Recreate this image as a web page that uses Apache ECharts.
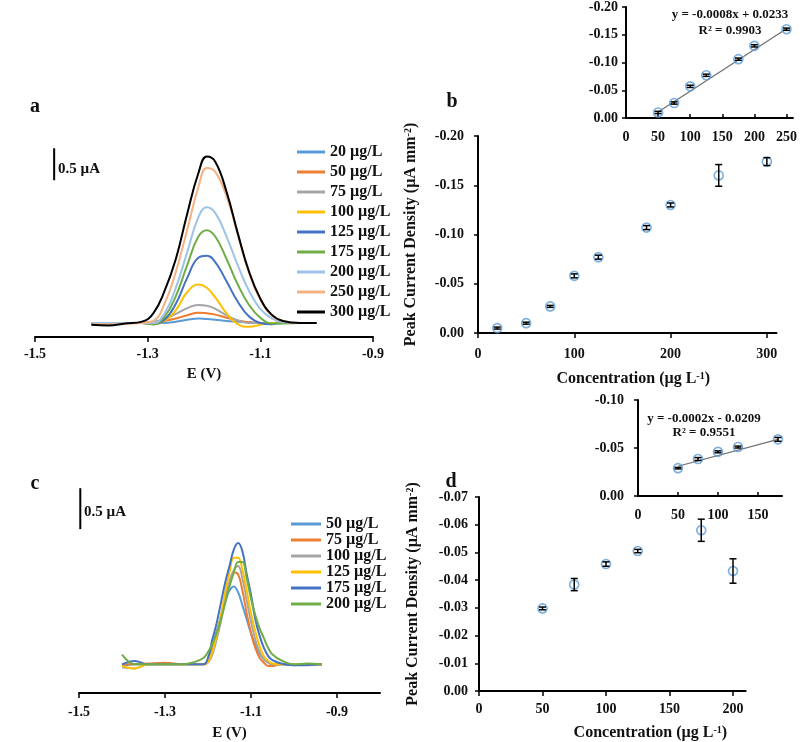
<!DOCTYPE html>
<html>
<head>
<meta charset="utf-8">
<script src="https://cdn.jsdelivr.net/npm/echarts@6/dist/echarts.min.js"></script>
<style>html,body{margin:0;padding:0;background:#fff}#c{width:800px;height:742px}</style>
</head>
<body>
<div id="c"></div>
<script>
// ---------- Panel a: DPV curves ----------
const E_A = [-1.40, -1.37, -1.34, -1.31, -1.29, -1.27, -1.25, -1.23, -1.21, -1.195, -1.18, -1.16, -1.14, -1.12, -1.10, -1.08, -1.06, -1.03, -1.00];
const A_NAMES = ['20 µg/L', '50 µg/L', '75 µg/L', '100 µg/L', '125 µg/L', '175 µg/L', '200 µg/L', '250 µg/L', '300 µg/L'];
const a20  = [0, 0, 0, 0, 0, 0.0, 0.02, 0.05, 0.07, 0.06, 0.05, 0.03, 0.02, 0.01, 0, 0, 0, 0, 0];
const a50  = [-0.02, -0.01, 0, 0, 0.0, 0.03, 0.07, 0.12, 0.16, 0.15, 0.13, 0.08, 0.04, 0.01, 0, 0, 0, 0, 0];
const a75  = [0, 0, 0, 0, 0.02, 0.06, 0.14, 0.23, 0.28, 0.27, 0.22, 0.12, 0.04, 0.0, 0, 0, 0, 0, 0];
const a100 = [0, 0, 0, 0, -0.02, 0.03, 0.2, 0.48, 0.6, 0.55, 0.4, 0.15, -0.02, -0.06, -0.03, 0, 0, 0, 0];
const a125 = [0, 0, 0, 0, -0.02, 0.05, 0.3, 0.7, 1.02, 1.05, 0.95, 0.65, 0.33, 0.1, 0.0, -0.02, 0, 0, 0];
const a175 = [0, 0, 0, 0, -0.02, 0.1, 0.42, 0.9, 1.35, 1.45, 1.35, 1.0, 0.6, 0.28, 0.08, -0.01, -0.01, 0, 0];
const a200 = [0, 0, 0, 0, 0, 0.15, 0.55, 1.1, 1.65, 1.81, 1.72, 1.35, 0.9, 0.5, 0.22, 0.07, 0.01, 0, 0];
const a250 = [-0.02, -0.02, -0.01, 0, 0.03, 0.3, 0.8, 1.45, 2.12, 2.42, 2.36, 1.98, 1.38, 0.78, 0.36, 0.12, 0.03, 0, 0];
const a300 = [-0.03, -0.04, -0.01, 0.02, 0.15, 0.5, 1.0, 1.7, 2.34, 2.6, 2.52, 2.05, 1.4, 0.8, 0.38, 0.13, 0.03, 0, 0];
const A_CURVES = [a20, a50, a75, a100, a125, a175, a200, a250, a300];
const A_TICKS = [-1.5, -1.3, -1.1, -0.9];
const A_SCALEBAR = [[-1.466, 2.23], [-1.466, 2.73]]; // 0.5 µA

// ---------- Panel c: DPV curves ----------
const E_C = [-1.40, -1.37, -1.34, -1.30, -1.26, -1.23, -1.21, -1.20, -1.19, -1.18, -1.17, -1.16, -1.15, -1.14, -1.13, -1.12, -1.11, -1.10, -1.09, -1.08, -1.07, -1.06, -1.05, -1.03, -1.00, -0.97, -0.935];
const C_NAMES = ['50 µg/L', '75 µg/L', '100 µg/L', '125 µg/L', '175 µg/L', '200 µg/L'];
const c50  = [-0.02, 0.0, 0.0, 0.0, 0.0, 0.0, 0.0, 0.05, 0.22, 0.4, 0.58, 0.76, 0.9, 0.95, 0.88, 0.72, 0.55, 0.38, 0.24, 0.13, 0.06, 0.02, 0.0, 0.0, -0.01, 0.0, 0.0];
const c75  = [0.0, 0.0, 0.01, 0.02, 0.0, 0.0, 0.0, 0.03, 0.15, 0.35, 0.58, 0.82, 1.0, 1.12, 1.1, 0.9, 0.62, 0.38, 0.2, 0.08, 0.02, -0.02, -0.02, 0.0, 0.0, 0.0, 0.0];
const c100 = [-0.04, -0.05, 0.0, 0.0, 0.0, 0.0, 0.0, 0.02, 0.12, 0.3, 0.52, 0.78, 1.0, 1.15, 1.2, 1.05, 0.78, 0.52, 0.3, 0.15, 0.06, 0.02, 0.0, 0.0, 0.0, 0.0, 0.0];
const c125 = [-0.02, -0.05, 0.0, 0.0, 0.0, 0.0, 0.0, 0.03, 0.15, 0.35, 0.6, 0.88, 1.12, 1.3, 1.3, 1.15, 0.9, 0.62, 0.4, 0.22, 0.1, 0.04, 0.01, 0.0, 0.0, 0.0, 0.0];
const c175 = [0.0, 0.04, 0.0, 0.0, 0.0, 0.0, 0.0, 0.08, 0.3, 0.5, 0.75, 1.0, 1.2, 1.4, 1.48, 1.38, 1.1, 0.85, 0.55, 0.35, 0.2, 0.1, 0.05, 0.01, -0.01, -0.01, 0.0];
const c200 = [0.12, 0.0, 0.0, 0.0, 0.0, 0.03, 0.08, 0.15, 0.25, 0.38, 0.55, 0.75, 0.95, 1.12, 1.25, 1.25, 1.05, 0.8, 0.6, 0.44, 0.32, 0.2, 0.12, 0.05, 0.0, 0.01, 0.0];
const C_CURVES = [c50, c75, c100, c125, c175, c200];
const C_TICKS = [-1.5, -1.3, -1.1, -0.9];
const C_SCALEBAR = [[-1.497, 1.65], [-1.497, 2.15]]; // 0.5 µA

// ---------- Panel b ----------
const B_CONC = [20, 50, 75, 100, 125, 175, 200, 250, 300];
const B_VAL  = [-0.005, -0.010, -0.027, -0.058, -0.077, -0.107, -0.130, -0.160, -0.174];
const B_ERR  = [0.001, 0.001, 0.001, 0.002, 0.002, 0.002, 0.002, 0.011, 0.004];
const B_XTICKS = [0, 100, 200, 300];
const BI_CONC = [50, 75, 100, 125, 175, 200, 250];
const BI_VAL  = [-0.010, -0.027, -0.057, -0.077, -0.106, -0.130, -0.160];
const BI_ERR  = [0.002, 0.002, 0.002, 0.002, 0.002, 0.002, 0.002];
const BI_FIT  = [[50, -0.011], [250, -0.161]];
const BI_XTICKS = [0, 50, 100, 150, 200, 250];
const B_EQ = 'y = -0.0008x + 0.0233';
const B_R2 = 'R² = 0.9903';

// ---------- Panel d ----------
const D_CONC = [50, 75, 100, 125, 175, 200];
const D_VAL  = [-0.0298, -0.0384, -0.0458, -0.0505, -0.058, -0.0433];
const D_ERR  = [0.0005, 0.0022, 0.0008, 0.0006, 0.004, 0.0044];
const D_XTICKS = [0, 50, 100, 150, 200];
const DI_CONC = [50, 75, 100, 125, 175];
const DI_VAL  = [-0.029, -0.0385, -0.046, -0.051, -0.059];
const DI_ERR  = [0.0008, 0.0015, 0.001, 0.001, 0.002];
const DI_FIT  = [[50, -0.031], [175, -0.059]];
const DI_XTICKS = [0, 50, 100, 150];
const D_EQ = 'y = -0.0002x - 0.0209';
const D_R2 = 'R² = 0.9551';

// ---------- styling ----------
const FONT = '"Liberation Serif", "Times New Roman", serif';
const INK = '#111';
const A_COLORS = ['#5B9BD5', '#ED7D31', '#A5A5A5', '#FFC000', '#4472C4', '#70AD47', '#9DC3E6', '#F4B183', '#000000'];
const C_COLORS = ['#5B9BD5', '#ED7D31', '#A5A5A5', '#FFC000', '#4472C4', '#70AD47'];
const MARK = '#5B9BD5';

const txt = (size) => ({ fontFamily: FONT, fontWeight: 'bold', fontSize: size, color: INK });
const supRich = { sup: { fontFamily: FONT, fontWeight: 'bold', fontSize: 10, color: INK, verticalAlign: 'top', lineHeight: 10 } };

function hiddenY(grid, min, max) {
  return { gridIndex: grid, type: 'value', min, max, show: false, splitLine: { show: false } };
}
function xAx(grid, min, max, ticks, fmt, opts) {
  return Object.assign({
    gridIndex: grid, type: 'value', min, max,
    axisLine: { show: true, onZero: false, lineStyle: { color: '#000', width: 2 } },
    axisTick: { show: true, inside: false, length: 5, customValues: ticks, lineStyle: { color: '#000', width: 1.5 } },
    axisLabel: Object.assign({ customValues: ticks, formatter: fmt, margin: 10 }, txt(14)),
    splitLine: { show: false }
  }, opts || {});
}
function yAx(grid, min, max, interval, opts) {
  return Object.assign({
    gridIndex: grid, type: 'value', min, max, interval, inverse: true,
    axisLine: { show: true, onZero: false, lineStyle: { color: '#000', width: 2 } },
    axisTick: { show: true, inside: false, length: 4, lineStyle: { color: '#000', width: 1.5 } },
    axisLabel: Object.assign({ formatter: v => Number(v).toFixed(2), margin: 12 }, txt(14)),
    splitLine: { show: false }
  }, opts || {});
}

function zip(xs, ys) { return xs.map((x, i) => [x, ys[i]]); }
function zip3(xs, ys, es) { return xs.map((x, i) => [x, ys[i], es[i]]); }

function errRender(params, api) {
  const x = api.value(0), y = api.value(1), e = api.value(2);
  const p1 = api.coord([x, y - e]);
  const p2 = api.coord([x, y + e]);
  const cap = 3.5;
  const st = { stroke: '#000', lineWidth: 1.5 };
  return {
    type: 'group',
    children: [
      { type: 'line', shape: { x1: p1[0], y1: p1[1], x2: p2[0], y2: p2[1] }, style: st },
      { type: 'line', shape: { x1: p1[0] - cap, y1: p1[1], x2: p1[0] + cap, y2: p1[1] }, style: st },
      { type: 'line', shape: { x1: p2[0] - cap, y1: p2[1], x2: p2[0] + cap, y2: p2[1] }, style: st }
    ]
  };
}

const series = [];
A_CURVES.forEach((ys, i) => {
  series.push({
    name: A_NAMES[i], type: 'line', xAxisIndex: 0, yAxisIndex: 0,
    data: zip(E_A, ys), smooth: 0.45, showSymbol: false, symbol: 'none',
    color: A_COLORS[i], lineStyle: { color: A_COLORS[i], width: 2 }, z: 2 + i * 0.01
  });
});
series.push({ type: 'line', xAxisIndex: 0, yAxisIndex: 0, data: A_SCALEBAR, symbol: 'none', clip: false,
  lineStyle: { color: '#000', width: 2 }, silent: true });

C_CURVES.forEach((ys, i) => {
  series.push({
    name: 'c:' + C_NAMES[i], type: 'line', xAxisIndex: 3, yAxisIndex: 3,
    data: zip(E_C, ys), smooth: 0.4, showSymbol: false, symbol: 'none',
    color: C_COLORS[i], lineStyle: { color: C_COLORS[i], width: 2 }, z: 2 + i * 0.01
  });
});
series.push({ type: 'line', xAxisIndex: 3, yAxisIndex: 3, data: C_SCALEBAR, symbol: 'none', clip: false,
  lineStyle: { color: '#000', width: 2 }, silent: true });

function scatterSet(xi, conc, vals, errs) {
  series.push({ type: 'scatter', xAxisIndex: xi, yAxisIndex: xi, data: zip(conc, vals),
    symbol: 'circle', symbolSize: 9, z: 3,
    itemStyle: { color: 'rgba(255,255,255,0)', borderColor: MARK, borderWidth: 1.6 } });
  series.push({ type: 'custom', xAxisIndex: xi, yAxisIndex: xi, data: zip3(conc, vals, errs),
    renderItem: errRender, encode: { x: 0, y: 1 }, z: 4, clip: false });
}
scatterSet(1, B_CONC, B_VAL, B_ERR);
series.push({ type: 'line', xAxisIndex: 2, yAxisIndex: 2, data: BI_FIT, symbol: 'none',
  lineStyle: { color: '#6f6f6f', width: 1.2 }, z: 2 });
scatterSet(2, BI_CONC, BI_VAL, BI_ERR);
scatterSet(4, D_CONC, D_VAL, D_ERR);
series.push({ type: 'line', xAxisIndex: 5, yAxisIndex: 5, data: DI_FIT, symbol: 'none',
  lineStyle: { color: '#6f6f6f', width: 1.2 }, z: 2 });
scatterSet(5, DI_CONC, DI_VAL, DI_ERR);

const yName = 'Peak Current Density (µA mm{sup|-2})';
const xName = 'Concentration (µg L{sup|-1})';

const option = {
  animation: false,
  backgroundColor: '#fff',
  grid: [
    { left: 35, top: 131, width: 338, height: 206 },   // a
    { left: 478, top: 136, width: 298.5, height: 197 }, // b main
    { left: 626, top: 7, width: 167.5, height: 111 },  // b inset
    { left: 79, top: 480, width: 301, height: 218 },   // c
    { left: 479, top: 497, width: 266.7, height: 202 }, // d main
    { left: 638, top: 400, width: 144, height: 96 }    // d inset
  ],
  xAxis: [
    xAx(0, -1.5, -0.9, A_TICKS, v => Number(v).toFixed(1), {
      name: 'E (V)', nameLocation: 'middle', nameGap: 30, nameTextStyle: txt(15) }),
    xAx(1, 0, 310, B_XTICKS, v => String(v), {
      name: xName, nameLocation: 'middle', nameGap: 38,
      nameTextStyle: Object.assign({ rich: supRich, padding: [0, 0, 0, 12] }, txt(16)),
      axisLabel: Object.assign({ customValues: B_XTICKS, margin: 14 }, txt(14)) }),
    xAx(2, 0, 260, BI_XTICKS, v => String(v), {
      axisTick: { show: true, inside: true, length: 4, customValues: BI_XTICKS, lineStyle: { color: '#000', width: 1.5 } },
      axisLabel: Object.assign({ customValues: BI_XTICKS, margin: 12 }, txt(14)) }),
    xAx(3, -1.5, -0.8, C_TICKS, v => Number(v).toFixed(1), {
      name: 'E (V)', nameLocation: 'middle', nameGap: 33, nameTextStyle: txt(15),
      axisLabel: Object.assign({ customValues: C_TICKS, formatter: v => Number(v).toFixed(1), margin: 12 }, txt(14)) }),
    xAx(4, 0, 210, D_XTICKS, v => String(v), {
      name: xName, nameLocation: 'middle', nameGap: 34,
      nameTextStyle: Object.assign({ rich: supRich, padding: [0, 0, 0, 76] }, txt(16)),
      axisLabel: Object.assign({ customValues: D_XTICKS, margin: 11 }, txt(14)) }),
    xAx(5, 0, 180, DI_XTICKS, v => String(v), {
      axisTick: { show: true, inside: true, length: 4, customValues: DI_XTICKS, lineStyle: { color: '#000', width: 1.5 } },
      axisLabel: Object.assign({ customValues: DI_XTICKS, margin: 12 }, txt(14)) })
  ],
  yAxis: [
    hiddenY(0, -0.22, 3.0),
    yAx(1, -0.2, 0, 0.05, {
      name: yName, nameLocation: 'middle', nameRotate: 90, nameGap: 59,
      nameTextStyle: Object.assign({ rich: supRich }, txt(16)),
      axisLabel: Object.assign({ formatter: v => Number(v).toFixed(2), margin: 14 }, txt(14)) }),
    yAx(2, -0.2, 0, 0.05, { axisLabel: Object.assign({ formatter: v => Number(v).toFixed(2), margin: 8 }, txt(14)) }),
    hiddenY(3, -0.35, 2.25),
    yAx(4, -0.07, 0, 0.01, {
      name: yName, nameLocation: 'middle', nameRotate: 90, nameGap: 58,
      nameTextStyle: Object.assign({ rich: supRich }, txt(16)),
      axisLabel: Object.assign({ formatter: v => Number(v).toFixed(2), margin: 11 }, txt(14)) }),
    yAx(5, -0.1, 0, 0.05, { axisLabel: Object.assign({ formatter: v => Number(v).toFixed(2), margin: 14 }, txt(14)) })
  ],
  legend: [
    { data: A_NAMES, orient: 'vertical', left: 292, top: 139, icon: 'rect', itemWidth: 28, itemHeight: 3,
      itemGap: 4, textStyle: txt(16), selectedMode: false },
    { data: C_NAMES.map(n => 'c:' + n), orient: 'vertical', left: 286, top: 511, icon: 'rect', itemWidth: 30, itemHeight: 3,
      itemGap: 0, formatter: n => n.replace(/^c:/, ''), textStyle: txt(16), selectedMode: false }
  ],
  graphic: [
    { type: 'text', x: 35, y: 107, style: { text: 'a', font: 'bold 20px ' + FONT, fill: INK, textAlign: 'center', textVerticalAlign: 'middle' } },
    { type: 'text', x: 452, y: 102, style: { text: 'b', font: 'bold 20px ' + FONT, fill: INK, textAlign: 'center', textVerticalAlign: 'middle' } },
    { type: 'text', x: 35, y: 484, style: { text: 'c', font: 'bold 20px ' + FONT, fill: INK, textAlign: 'center', textVerticalAlign: 'middle' } },
    { type: 'text', x: 451, y: 482, style: { text: 'd', font: 'bold 20px ' + FONT, fill: INK, textAlign: 'center', textVerticalAlign: 'middle' } },
    { type: 'text', x: 58, y: 169, style: { text: '0.5 µA', font: 'bold 15px ' + FONT, fill: INK, textAlign: 'left', textVerticalAlign: 'middle' } },
    { type: 'text', x: 84, y: 512, style: { text: '0.5 µA', font: 'bold 15px ' + FONT, fill: INK, textAlign: 'left', textVerticalAlign: 'middle' } },
    { type: 'text', x: 730, y: 15, style: { text: B_EQ, font: 'bold 13px ' + FONT, fill: INK, textAlign: 'center', textVerticalAlign: 'middle' } },
    { type: 'text', x: 730, y: 31, style: { text: B_R2, font: 'bold 13px ' + FONT, fill: INK, textAlign: 'center', textVerticalAlign: 'middle' } },
    { type: 'text', x: 704, y: 419, style: { text: D_EQ, font: 'bold 13px ' + FONT, fill: INK, textAlign: 'center', textVerticalAlign: 'middle' } },
    { type: 'text', x: 704, y: 433, style: { text: D_R2, font: 'bold 13px ' + FONT, fill: INK, textAlign: 'center', textVerticalAlign: 'middle' } }
  ],
  series
};

const chart = echarts.init(document.getElementById('c'), null, { renderer: 'canvas' });
chart.setOption(option);
</script>
</body>
</html>
